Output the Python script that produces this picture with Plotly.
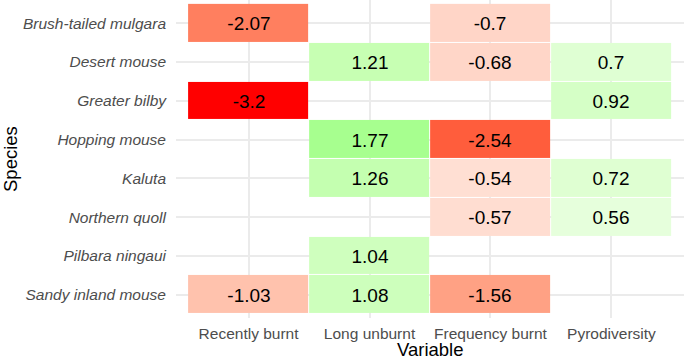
import plotly.graph_objects as go

species = ["Brush-tailed mulgara", "Desert mouse", "Greater bilby", "Hopping mouse",
           "Kaluta", "Northern quoll", "Pilbara ningaui", "Sandy inland mouse"]
variables = ["Recently burnt", "Long unburnt", "Frequency burnt", "Pyrodiversity"]

recently_burnt = [-2.07, None, -3.2, None, None, None, None, -1.03]
long_unburnt = [None, 1.21, None, 1.77, 1.26, None, 1.04, 1.08]
frequency_burnt = [-0.7, -0.68, None, -2.54, -0.54, -0.57, None, -1.56]
pyrodiversity = [None, 0.7, 0.92, None, 0.72, 0.56, None, None]

columns = [recently_burnt, long_unburnt, frequency_burnt, pyrodiversity]
z = [[col[i] for col in columns] for i in range(len(species))]
text = [["" if v is None else str(v) for v in row] for row in z]

lim = max(abs(v) for col in columns for v in col if v is not None)


# ---- diverging colour scale interpolated in CIE Lab (red - white - green) ----
def _lin(c):
    c = c / 255.0
    return c / 12.92 if c <= 0.04045 else ((c + 0.055) / 1.055) ** 2.4


def _unlin(c):
    c = max(0.0, min(1.0, c))
    v = 12.92 * c if c <= 0.0031308 else 1.055 * c ** (1 / 2.4) - 0.055
    return round(max(0, min(255, v * 255)))


WX, WY, WZ = 0.95047, 1.0, 1.08883


def rgb2lab(rgb):
    r, g, b = (_lin(c) for c in rgb)
    x = (0.4124 * r + 0.3576 * g + 0.1805 * b) / WX
    y = (0.2126 * r + 0.7152 * g + 0.0722 * b) / WY
    zz = (0.0193 * r + 0.1192 * g + 0.9505 * b) / WZ

    def f(t):
        return t ** (1 / 3) if t > 0.008856 else 7.787 * t + 16 / 116

    fx, fy, fz = f(x), f(y), f(zz)
    return (116 * fy - 16, 500 * (fx - fy), 200 * (fy - fz))


def lab2rgb(lab):
    L, a, b = lab
    fy = (L + 16) / 116
    fx = fy + a / 500
    fz = fy - b / 200

    def finv(t):
        return t ** 3 if t ** 3 > 0.008856 else (t - 16 / 116) / 7.787

    x, y, zz = finv(fx) * WX, finv(fy) * WY, finv(fz) * WZ
    r = 3.2406 * x - 1.5372 * y - 0.4986 * zz
    g = -0.9689 * x + 1.8758 * y + 0.0415 * zz
    bb = 0.0557 * x - 0.2040 * y + 1.0570 * zz
    return (_unlin(r), _unlin(g), _unlin(bb))


low, mid, high = rgb2lab((255, 0, 0)), rgb2lab((255, 255, 255)), rgb2lab((0, 255, 0))
n = 40
colorscale = []
for k in range(n + 1):
    t = k / n
    if t <= 0.5:
        s = t / 0.5
        lab = tuple(low[j] + (mid[j] - low[j]) * s for j in range(3))
    else:
        s = (t - 0.5) / 0.5
        lab = tuple(mid[j] + (high[j] - mid[j]) * s for j in range(3))
    r, g, b = lab2rgb(lab)
    colorscale.append([t, f"rgb({r},{g},{b})"])

FONT = "Liberation Sans, Arial, sans-serif"

fig = go.Figure(
    go.Heatmap(
        x=variables,
        y=species,
        z=z,
        text=text,
        texttemplate="%{text}",
        textfont=dict(family=FONT, size=19, color="black"),
        colorscale=colorscale,
        zmin=-lim,
        zmax=lim,
        showscale=False,
        xgap=1,
        ygap=1,
        hoverongaps=False,
    )
)

fig.update_layout(
    template="none",
    width=685,
    height=361,
    margin=dict(l=176, r=1, t=0, b=43, autoexpand=False),
    paper_bgcolor="white",
    plot_bgcolor="white",
    font=dict(family=FONT),
    showlegend=False,
    annotations=[
        dict(text="Variable", xref="paper", yref="paper", x=0.5, y=-31 / 318,
             xanchor="center", yanchor="middle", showarrow=False,
             font=dict(family=FONT, size=18.5, color="black")),
        dict(text="Species", xref="paper", yref="paper", x=-166 / 508, y=0.5,
             xanchor="center", yanchor="middle", textangle=-90, showarrow=False,
             font=dict(family=FONT, size=18.5, color="black")),
    ],
)

fig.update_xaxes(
    type="category",
    categoryorder="array",
    categoryarray=variables,
    range=[-0.6, 3.6],
    automargin=False,
    showgrid=True,
    gridcolor="#EBEBEB",
    gridwidth=1.5,
    zeroline=False,
    showline=False,
    ticks="",
    ticklabelstandoff=4,
    tickfont=dict(family=FONT, size=15.5, color="#4D4D4D"),
)
fig.update_yaxes(
    type="category",
    categoryorder="array",
    categoryarray=species,
    range=[7.6, -0.6],
    automargin=False,
    showgrid=True,
    gridcolor="#EBEBEB",
    gridwidth=1.5,
    zeroline=False,
    showline=False,
    ticks="",
    ticklabelstandoff=9,
    tickfont=dict(family=FONT, size=15.5, color="#4D4D4D", style="italic"),
)

fig.write_html(
    "out.html",
    config={"displayModeBar": False},
    post_script="document.body.style.margin='0px';document.body.style.overflow='hidden';",
)
